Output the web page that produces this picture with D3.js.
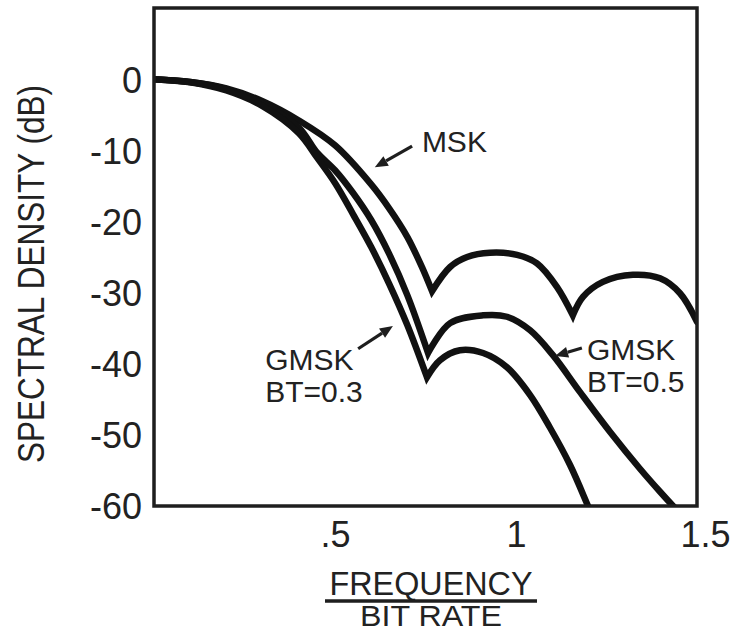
<!DOCTYPE html>
<html>
<head>
<meta charset="utf-8">
<script src="https://cdn.jsdelivr.net/npm/d3@7"></script>
<style>
  html, body { margin: 0; padding: 0; background: #fff; }
  svg { display: block; }
  text { font-family: "Liberation Sans", Arial, Helvetica, sans-serif; fill: #222; }
</style>
</head>
<body>
<svg id="chart" width="732" height="633"></svg>
<script>
// ---- data (frequency / bit rate, spectral density in dB) ----
const freqTickValues = [0.5, 1, 1.5];
const freqTickLabels = [".5", "1", "1.5"];
const dbTickValues = [0, -10, -20, -30, -40, -50, -60];

const mskFreq = [0, 0.1, 0.2, 0.3, 0.4, 0.5, 0.6, 0.65, 0.7, 0.74, 0.768,
                 0.818, 0.865, 0.928, 1.003, 1.058, 1.113, 1.157,
                 1.185, 1.24, 1.323, 1.398, 1.453, 1.5];
const mskDb   = [0, -0.4, -1.3, -3.1, -5.8, -9.3, -14.8, -18.2, -22.2, -26.4, -29.8,
                 -26.4, -25.0, -24.4, -24.7, -25.9, -29.2, -33.2,
                 -30.6, -28.5, -27.5, -28.0, -30.1, -34.1];
const mskCusps = [0.768, 1.157];

const gmsk05Freq = [0, 0.1, 0.2, 0.3, 0.4, 0.45, 0.5, 0.55, 0.6, 0.65, 0.7, 0.757,
                    0.818, 0.909, 0.975, 1.039, 1.102, 1.177, 1.26, 1.343, 1.398, 1.434, 1.481];
const gmsk05Db   = [0, -0.4, -1.4, -3.4, -6.8, -10.3, -12.8, -16.0, -19.8, -24.6, -30.4, -38.5,
                    -34.3, -33.2, -33.4, -35.3, -38.8, -44.0, -49.6, -54.8, -58.0, -60.0, -62.4];
const gmsk05Cusps = [0.757];

const gmsk03Freq = [0, 0.1, 0.2, 0.3, 0.4, 0.45, 0.5, 0.55, 0.6, 0.65, 0.7, 0.754,
                    0.79, 0.845, 0.909, 0.975, 1.039, 1.094, 1.149, 1.199, 1.22];
const gmsk03Db   = [0, -0.45, -1.6, -3.8, -7.6, -11.0, -14.6, -19.0, -23.6, -28.8, -34.6, -41.9,
                    -39.5, -38.1, -38.5, -40.5, -44.4, -49.0, -54.2, -60.0, -62.5];
const gmsk03Cusps = [0.754];

// annotations: label lines, label pos (f, dB baseline), arrow tail (f,dB), arrow tip (f,dB)
const annoLabels = [["MSK"], ["GMSK", "BT=0.3"], ["GMSK", "BT=0.5"]];
const annoTextPos = [[0.740, -10.3], [0.307, -40.9], [1.196, -39.5]];
const annoTail = [[0.713, -9.4], [0.564, -37.9], [1.182, -37.8]];
const annoTip  = [[0.610, -12.4], [0.660, -34.7], [1.108, -38.9]];

// ---- layout ----
const svg = d3.select("#chart");
const x = d3.scaleLinear().domain([0, 1.5]).range([154, 697]);
const y = d3.scaleLinear().domain([-60, 10]).range([506, 8]);
const ink = "#1e1e1e";

svg.append("defs").append("clipPath").attr("id", "plotclip")
  .append("rect")
  .attr("x", x(0)).attr("y", y(10))
  .attr("width", x(1.5) - x(0)).attr("height", y(-60) - y(10));

// axes (labels only, frame drawn separately)
const yAxis = d3.axisLeft(y).tickValues(dbTickValues).tickSize(0).tickPadding(12)
  .tickFormat(d => d === 0 ? "0" : "-" + Math.abs(d));
const gy = svg.append("g").attr("transform", `translate(${x(0)},0)`).call(yAxis);
gy.select(".domain").remove();
gy.selectAll("text").attr("font-size", 36).attr("font-family", null).attr("fill", "#222")
  .attr("dy", "0.36em");

const xAxis = d3.axisBottom(x).tickValues(freqTickValues).tickSize(0).tickPadding(14)
  .tickFormat((d, i) => freqTickLabels[i]);
const gx = svg.append("g").attr("transform", `translate(0,${y(-60)})`).call(xAxis);
gx.select(".domain").remove();
gx.selectAll("text").attr("font-size", 36).attr("font-family", null).attr("fill", "#222")
  .attr("dy", "0.75em");
gx.selectAll("text").filter((d) => d === 1.5).attr("dx", 8);

// y title
svg.append("text")
  .attr("transform", `translate(44,${(y(10) + y(-60)) / 2 + 17}) rotate(-90)`)
  .attr("text-anchor", "middle")
  .attr("font-size", 37)
  .attr("textLength", 378).attr("lengthAdjust", "spacingAndGlyphs")
  .text("SPECTRAL DENSITY (dB)");

// x title (fraction)
const cx = 431;
svg.append("text").attr("x", cx).attr("y", 595).attr("text-anchor", "middle")
  .attr("font-size", 33).attr("textLength", 203).attr("lengthAdjust", "spacingAndGlyphs")
  .text("FREQUENCY");
svg.append("line").attr("x1", 325).attr("x2", 537).attr("y1", 601).attr("y2", 601)
  .attr("stroke", ink).attr("stroke-width", 3.5);
svg.append("text").attr("x", cx).attr("y", 626).attr("text-anchor", "middle")
  .attr("font-size", 30).attr("textLength", 142).attr("lengthAdjust", "spacingAndGlyphs")
  .text("BIT RATE");

// curves
function curvePath(fs, ds, cusps) {
  const pts = fs.map((f, i) => [f, ds[i]]);
  const segs = [];
  let cur = [];
  pts.forEach(p => {
    cur.push(p);
    if (cusps.includes(p[0])) { segs.push(cur); cur = [p]; }
  });
  if (cur.length > 1) segs.push(cur);
  const gen = d3.line().x(d => x(d[0])).y(d => y(d[1])).curve(d3.curveCatmullRom.alpha(0.5));
  return segs.map((s, i) => { const p = gen(s); return i === 0 ? p : p.replace(/^M/, "L"); }).join("");
}

const curves = svg.append("g").attr("clip-path", "url(#plotclip)");
[[mskFreq, mskDb, mskCusps], [gmsk05Freq, gmsk05Db, gmsk05Cusps], [gmsk03Freq, gmsk03Db, gmsk03Cusps]]
  .forEach(([f, d, c]) => {
    curves.append("path")
      .attr("d", curvePath(f, d, c))
      .attr("fill", "none").attr("stroke", "#111").attr("stroke-width", 6.5)
      .attr("stroke-linejoin", "miter").attr("stroke-miterlimit", 8)
      .attr("stroke-linecap", "round");
  });

// frame
svg.append("rect")
  .attr("x", x(0)).attr("y", y(10))
  .attr("width", x(1.5) - x(0)).attr("height", y(-60) - y(10))
  .attr("fill", "none").attr("stroke", ink).attr("stroke-width", 3.5);

// annotations
annoLabels.forEach((lines, i) => {
  const [tf, td] = annoTextPos[i];
  lines.forEach((t, j) => {
    svg.append("text").attr("x", x(tf)).attr("y", y(td) + j * 32)
      .attr("font-size", 30).text(t);
  });
  const x1 = x(annoTail[i][0]), y1 = y(annoTail[i][1]);
  const x2 = x(annoTip[i][0]), y2 = y(annoTip[i][1]);
  const ang = Math.atan2(y2 - y1, x2 - x1);
  const L = 13, W = 5.5;
  const bx = x2 - L * Math.cos(ang), by = y2 - L * Math.sin(ang);
  svg.append("line").attr("x1", x1).attr("y1", y1).attr("x2", bx).attr("y2", by)
    .attr("stroke", ink).attr("stroke-width", 3.2);
  svg.append("path")
    .attr("d", `M${x2},${y2}L${bx + W * Math.sin(ang)},${by - W * Math.cos(ang)}L${bx - W * Math.sin(ang)},${by + W * Math.cos(ang)}Z`)
    .attr("fill", ink);
});
</script>
</body>
</html>
